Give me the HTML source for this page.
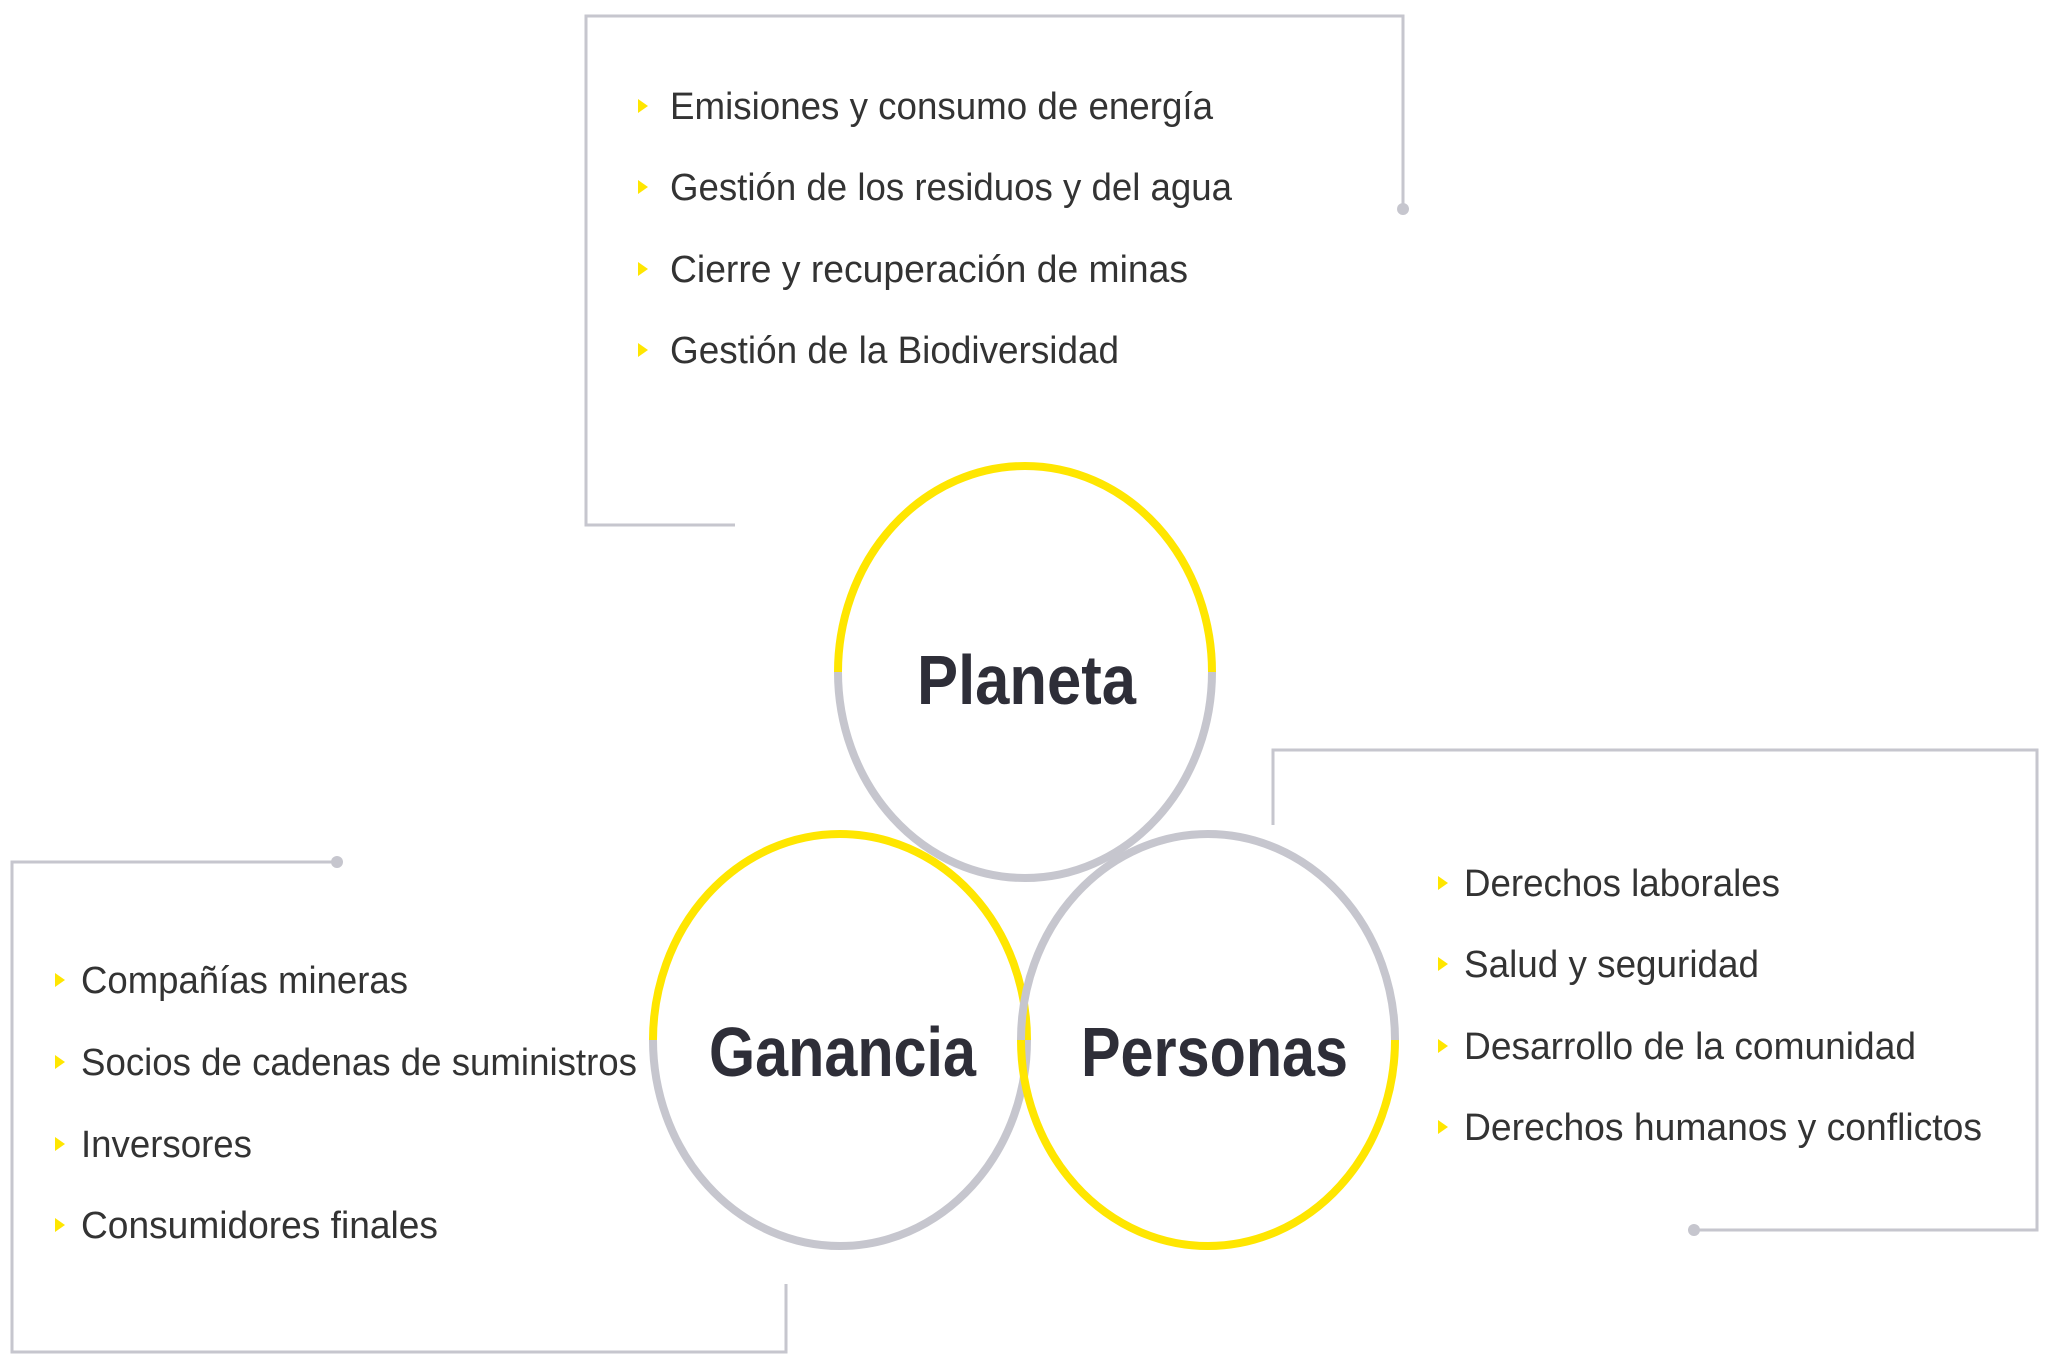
<!DOCTYPE html>
<html><head><meta charset="utf-8"><style>html,body{margin:0;padding:0;background:#fff}svg{display:block}</style></head>
<body>
<svg width="2048" height="1365" viewBox="0 0 2048 1365" xmlns="http://www.w3.org/2000/svg" font-family="'Liberation Sans', sans-serif">
<g fill="none" stroke="#c6c6ce" stroke-width="3">
<polyline points="735,525 586,525 586,16 1403,16 1403,209"/>
<polyline points="1273,825 1273,750 2037,750 2037,1230 1694,1230"/>
<polyline points="337,862 12,862 12,1352 786,1352 786,1284"/>
</g>
<g fill="#c6c6ce"><circle cx="1403" cy="209" r="6"/><circle cx="1694" cy="1230" r="6"/><circle cx="337" cy="862" r="6"/></g>
<g fill="none" stroke-width="8">
<path d="M838,672 A187,206 0 0 1 1212,672" stroke="#ffe600"/>
<path d="M838,672 A187,206 0 0 0 1212,672" stroke="#c6c6ce"/>
<path d="M653,1040 A187,206 0 0 1 1027,1040" stroke="#ffe600"/>
<path d="M653,1040 A187,206 0 0 0 1027,1040" stroke="#c6c6ce"/>
<path d="M1021,1040 A187,206 0 0 1 1395,1040" stroke="#c6c6ce"/>
<path d="M1021,1040 A187,206 0 0 0 1395,1040" stroke="#ffe600"/>
</g>
<g fill="#2e2e38" font-weight="bold" font-size="70">
<text x="917" y="704" textLength="219" lengthAdjust="spacingAndGlyphs">Planeta</text>
<text x="709" y="1076" textLength="267" lengthAdjust="spacingAndGlyphs">Ganancia</text>
<text x="1081" y="1076" textLength="267" lengthAdjust="spacingAndGlyphs">Personas</text>
</g>
<g fill="#ffe600">
<path d="M638,99 l10,7 l-10,7z"/><path d="M638,180 l10,7 l-10,7z"/><path d="M638,262 l10,7 l-10,7z"/><path d="M638,343 l10,7 l-10,7z"/>
<path d="M1438,876 l10,7 l-10,7z"/><path d="M1438,957 l10,7 l-10,7z"/><path d="M1438,1039 l10,7 l-10,7z"/><path d="M1438,1120 l10,7 l-10,7z"/>
<path d="M55,973 l10,7 l-10,7z"/><path d="M55,1055 l10,7 l-10,7z"/><path d="M55,1137 l10,7 l-10,7z"/><path d="M55,1218 l10,7 l-10,7z"/>
</g>
<g fill="#333" font-size="38">
<text x="670" y="119" textLength="543" lengthAdjust="spacingAndGlyphs">Emisiones y consumo de energía</text>
<text x="670" y="200" textLength="562" lengthAdjust="spacingAndGlyphs">Gestión de los residuos y del agua</text>
<text x="670" y="282" textLength="518" lengthAdjust="spacingAndGlyphs">Cierre y recuperación de minas</text>
<text x="670" y="363" textLength="449" lengthAdjust="spacingAndGlyphs">Gestión de la Biodiversidad</text>
<text x="1464" y="896" textLength="316" lengthAdjust="spacingAndGlyphs">Derechos laborales</text>
<text x="1464" y="977" textLength="295" lengthAdjust="spacingAndGlyphs">Salud y seguridad</text>
<text x="1464" y="1059" textLength="452" lengthAdjust="spacingAndGlyphs">Desarrollo de la comunidad</text>
<text x="1464" y="1140" textLength="518" lengthAdjust="spacingAndGlyphs">Derechos humanos y conflictos</text>
<text x="81" y="993" textLength="327" lengthAdjust="spacingAndGlyphs">Compañías mineras</text>
<text x="81" y="1075" textLength="556" lengthAdjust="spacingAndGlyphs">Socios de cadenas de suministros</text>
<text x="81" y="1157" textLength="171" lengthAdjust="spacingAndGlyphs">Inversores</text>
<text x="81" y="1238" textLength="357" lengthAdjust="spacingAndGlyphs">Consumidores finales</text>
</g>
</svg>
</body></html>
